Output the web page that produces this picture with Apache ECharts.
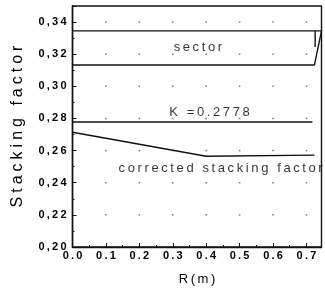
<!DOCTYPE html>
<html><head><meta charset="utf-8">
<script src="https://cdn.jsdelivr.net/npm/echarts@6/dist/echarts.min.js"></script>
<style>html,body{margin:0;padding:0;background:#fff}#c{width:325px;height:291px}</style>
</head><body><div id="c"></div>
<script>
// ---- data ----
const xTickValues = [0.0, 0.1, 0.2, 0.3, 0.4, 0.5, 0.6, 0.7];
const yTickValues = [0.20, 0.22, 0.24, 0.26, 0.28, 0.30, 0.32, 0.34];
const sectorTopR = [0, 0.745];
const sectorTopV = [0.3345, 0.3345];
const sectorBottomR = [0, 0.724, 0.745];
const sectorBottomV = [0.3133, 0.3133, 0.3345];
const sectorEdgeR = [0.726, 0.726];
const sectorEdgeV = [0.3345, 0.3245];
const kR = [0, 0.718];
const kV = [0.2778, 0.2778];
const correctedR = [0, 0.4, 0.724];
const correctedV = [0.2714, 0.2565, 0.2572];
const annotations = [
  {text: 'sector', r: 0.375, v: 0.3243, align: 'center'},
  {text: 'K =0.2778', r: 0.41, v: 0.2836, align: 'center'},
  {text: 'corrected stacking factor', r: 0.138, v: 0.2490, align: 'left'}
];

const spaced = (s, sp) => s.split('').join(sp || '\u2009');
const zip = (a, b) => a.map((x, i) => [x, b[i]]);
const gridDots = [];
xTickValues.slice(1).forEach(x => yTickValues.slice(1).forEach(y => gridDots.push([x, y])));

const font = 'Arial, "Liberation Sans", sans-serif';
const lineStyle = {color: '#111', width: 1.4};
function lineSeries(r, v) {
  return {type: 'line', data: zip(r, v), symbol: 'none', lineStyle, silent: true, z: 3};
}

const chart = echarts.init(document.getElementById('c'));
chart.setOption({
  animation: false,
  grid: {left: 72.5, right: 3.5, top: 6, bottom: 40, show: true, borderColor: '#111', borderWidth: 1.4},
  xAxis: {
    type: 'value', min: 0, max: 0.745, interval: 0.1,
    name: spaced('R(m)'), nameLocation: 'middle', nameGap: 26,
    nameTextStyle: {fontFamily: font, fontSize: 13, color: '#000'},
    axisLine: {show: true, lineStyle: {color: '#111', width: 1.4}},
    axisTick: {show: true, inside: true, length: 4, lineStyle: {color: '#111'}},
    minorTick: {show: true, splitNumber: 2, length: 2, lineStyle: {color: '#111'}},
    splitLine: {show: false},
    axisLabel: {fontFamily: font, fontSize: 11, fontWeight: 'bold', color: '#000', margin: 3,
      formatter: v => spaced(v.toFixed(1)), showMaxLabel: false}
  },
  yAxis: {
    type: 'value', min: 0.2, max: 0.35, interval: 0.02,
    name: spaced('Stacking factor', '\u2005'), nameLocation: 'middle', nameGap: 47,
    nameTextStyle: {fontFamily: font, fontSize: 16, color: '#000'},
    axisLine: {show: true, lineStyle: {color: '#111', width: 1.4}},
    axisTick: {show: true, inside: true, length: 4, lineStyle: {color: '#111'}},
    minorTick: {show: true, splitNumber: 2, length: 2, lineStyle: {color: '#111'}},
    splitLine: {show: false},
    axisLabel: {fontFamily: font, fontSize: 11, fontWeight: 'bold', color: '#000', margin: 6,
      formatter: v => spaced(v.toFixed(2).replace('.', ',')), showMaxLabel: false}
  },
  series: [
    {type: 'scatter', data: gridDots, symbol: 'rect', symbolSize: 1.5, itemStyle: {color: '#555'}, silent: true, z: 1},
    lineSeries(sectorTopR, sectorTopV),
    lineSeries(sectorBottomR, sectorBottomV),
    lineSeries(sectorEdgeR, sectorEdgeV),
    lineSeries(kR, kV),
    lineSeries(correctedR, correctedV),
    {type: 'scatter', symbolSize: 0, silent: true, z: 5,
      data: annotations.map(a => ({value: [a.r, a.v], label: {
        show: true, position: 'inside', formatter: spaced(a.text), align: a.align,
        verticalAlign: 'middle', fontFamily: font, fontSize: 13, color: '#000'}}))}
  ]
});
</script></body></html>
